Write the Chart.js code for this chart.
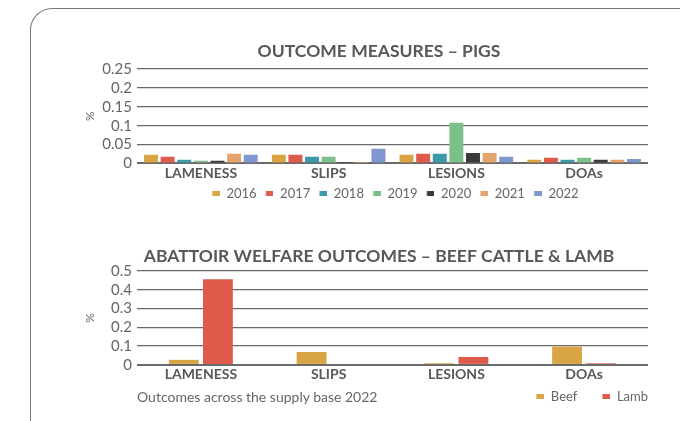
<!DOCTYPE html>
<html>
<head>
<meta charset="utf-8">
<script src="https://cdn.jsdelivr.net/npm/chart.js@4.4.0/dist/chart.umd.min.js"></script>
<style>
  body { margin: 0; width: 680px; height: 421px; background: #fff; position: relative; overflow: hidden; font-family: Lato, sans-serif; }
  #frame { position: absolute; left: 30px; top: 8px; width: 700px; height: 500px; border-left: 1px solid #777; border-top: 1px solid #777; border-top-left-radius: 22px; }
  #pigsBox { position: absolute; left: 78px; top: 30px; width: 602px; height: 180px; }
  #cattleBox { position: absolute; left: 85px; top: 235px; width: 588px; height: 178px; }
  #footnote { position: absolute; left: 137px; top: 388px; font-size: 14px; line-height: 17px; color: #666; }
</style>
</head>
<body>
<div id="frame"></div>
<div id="pigsBox"><canvas id="pigs"></canvas></div>
<div id="cattleBox"><canvas id="cattle"></canvas></div>
<div id="footnote">Outcomes across the supply base 2022</div>
<script>
// categories shared by both charts
const categories = ["LAMENESS", "SLIPS", "LESIONS", "DOAs"];

// pigs, one array per year
const years = ["2016", "2017", "2018", "2019", "2020", "2021", "2022"];
const pigs2016 = [0.023, 0.023, 0.023, 0.010];
const pigs2017 = [0.018, 0.023, 0.026, 0.015];
const pigs2018 = [0.010, 0.018, 0.026, 0.010];
const pigs2019 = [0.007, 0.018, 0.108, 0.015];
const pigs2020 = [0.007, 0.004, 0.028, 0.010];
const pigs2021 = [0.026, 0.004, 0.028, 0.010];
const pigs2022 = [0.023, 0.039, 0.018, 0.012];
const pigTicks = [0, 0.05, 0.1, 0.15, 0.2, 0.25];
const pigTickLabels = ["0", "0.05", "0.1", "0.15", "0.2", "0.25"];

// beef cattle & lamb 2022
const beef = [0.027, 0.069, 0.009, 0.097];
const lamb = [0.456, 0, 0.042, 0.009];
const cattleTicks = [0, 0.1, 0.2, 0.3, 0.4, 0.5];
const cattleTickLabels = ["0", "0.1", "0.2", "0.3", "0.4", "0.5"];

const yearColours = ["#D9A444", "#DE5B4C", "#3A9AAA", "#7BC08A", "#3A3A3A", "#E3A46E", "#7F96CF"];
const beefColour = "#D9A444";
const lambColour = "#DE5B4C";
const textGrey = "#585858";

Chart.defaults.font.family = "Lato, sans-serif";
Chart.defaults.animation = false;

// little legend swatch: blank gap on the left, 8x5 colour block on the right
function swatch(colour, gap) {
  const c = document.createElement("canvas");
  c.width = gap + 8;
  c.height = 5;
  const g = c.getContext("2d");
  g.fillStyle = colour;
  g.fillRect(gap, 0, 8, 5);
  return c;
}

function legendWithSwatches(colours, gap) {
  const imgs = colours.map((col) => swatch(col, gap));
  return {
    usePointStyle: true,
    pointStyleWidth: gap + 8,
    boxHeight: 5,
    color: "#666",
    font: { size: 13 },
    generateLabels: (chart) =>
      Chart.defaults.plugins.legend.labels.generateLabels(chart).map((item) => ({
        ...item,
        pointStyle: imgs[item.datasetIndex],
      })),
  };
}

const gridLine = {
  drawTicks: false,
  color: "#6a6a6a",
  lineWidth: (c) => (c.tick && c.tick.value === 0 ? 2 : 1.3),
};

const pigSeries = [pigs2016, pigs2017, pigs2018, pigs2019, pigs2020, pigs2021, pigs2022];

new Chart(document.getElementById("pigs"), {
  type: "bar",
  data: {
    labels: categories,
    datasets: pigSeries.map((vals, i) => ({
      label: years[i],
      data: vals,
      backgroundColor: yearColours[i],
      barPercentage: 0.84,
      categoryPercentage: 0.91,
    })),
  },
  options: {
    responsive: true,
    maintainAspectRatio: false,
    layout: { padding: 0 },
    plugins: {
      title: {
        display: true,
        text: "OUTCOME MEASURES – PIGS",
        color: textGrey,
        font: { size: 17.5, weight: "bold" },
        padding: { top: 10.5, bottom: 7.5 },
      },
      legend: {
        position: "bottom",
        fullSize: false,
        labels: { ...legendWithSwatches(yearColours, 5.5), padding: 3.5 },
      },
      tooltip: { enabled: false },
    },
    scales: {
      x: {
        grid: { display: false, drawTicks: false },
        border: { display: false },
        ticks: { color: textGrey, font: { size: 14, weight: "bold", lineHeight: 1.43 }, padding: 0 },
      },
      y: {
        min: 0,
        max: 0.25,
        grid: gridLine,
        border: { display: false },
        afterBuildTicks: (s) => { s.ticks = pigTicks.map((v) => ({ value: v })); },
        ticks: { autoSkip: false, color: "#666", font: { size: 15 }, padding: 5, callback: (v, i) => pigTickLabels[i] },
        title: { display: true, text: "%", color: "#666", font: { size: 12 }, padding: { top: 5, bottom: 0 } },
        afterFit: (s) => { s.width = 59; },
      },
      // empty right axis, only keeps the plot clear of the right edge
      yRight: {
        position: "right",
        grid: { display: false, drawTicks: false },
        border: { display: false },
        ticks: { display: false },
        afterFit: (s) => { s.width = 32; },
      },
    },
  },
});

new Chart(document.getElementById("cattle"), {
  type: "bar",
  data: {
    labels: categories,
    datasets: [
      { label: "Beef", data: beef, backgroundColor: beefColour, barPercentage: 0.875, categoryPercentage: 0.534 },
      { label: "Lamb", data: lamb, backgroundColor: lambColour, barPercentage: 0.875, categoryPercentage: 0.534 },
    ],
  },
  options: {
    responsive: true,
    maintainAspectRatio: false,
    layout: { padding: 0 },
    plugins: {
      title: {
        display: true,
        text: "ABATTOIR WELFARE OUTCOMES – BEEF CATTLE & LAMB",
        color: textGrey,
        font: { size: 17.5, weight: "bold" },
        padding: { top: 10.5, bottom: 4.5 },
      },
      legend: {
        position: "bottom",
        align: "end",
        fullSize: false,
        // blank legend title used as a spacer so the legend can sit flush right with no padding
        title: { display: true, text: " ", font: { size: 1, lineHeight: 5.5 }, padding: 0 },
        labels: { ...legendWithSwatches([beefColour, lambColour], 25), padding: 0 },
      },
      tooltip: { enabled: false },
    },
    scales: {
      x: {
        grid: { display: false, drawTicks: false },
        border: { display: false },
        ticks: { color: textGrey, font: { size: 14, weight: "bold", lineHeight: 1.4 }, padding: 0 },
      },
      y: {
        min: 0,
        max: 0.5,
        grid: gridLine,
        border: { display: false },
        afterBuildTicks: (s) => { s.ticks = cattleTicks.map((v) => ({ value: v })); },
        ticks: { autoSkip: false, color: "#666", font: { size: 15 }, padding: 5, callback: (v, i) => cattleTickLabels[i] },
        title: { display: true, text: "%", color: "#666", font: { size: 12, lineHeight: 1 }, padding: { top: -1, bottom: 0 } },
        afterFit: (s) => { s.width = 52; },
      },
      yRight: {
        position: "right",
        grid: { display: false, drawTicks: false },
        border: { display: false },
        ticks: { display: false },
        afterFit: (s) => { s.width = 25; },
      },
    },
  },
});
</script>
</body>
</html>
